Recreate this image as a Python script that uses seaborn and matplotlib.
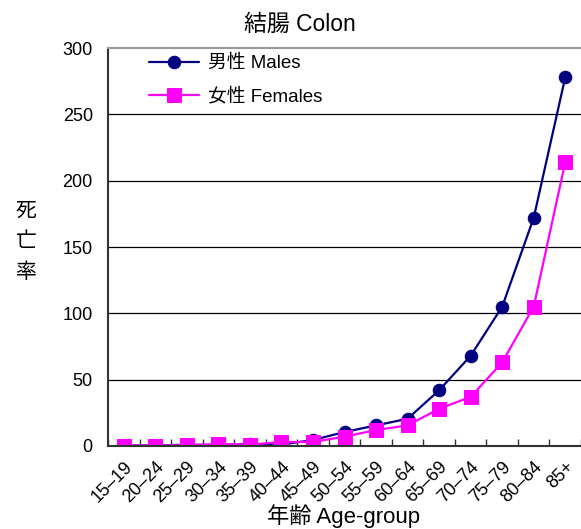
import numpy as np
import pandas as pd
import matplotlib
matplotlib.use('Agg')
import matplotlib.pyplot as plt
import seaborn as sns

# Age groups and death rates
age_groups = ['15–19', '20–24', '25–29', '30–34', '35–39', '40–44', '45–49', '50–54',
              '55–59', '60–64', '65–69', '70–74', '75–79', '80–84', '85+']
males = [0.3, 0.3, 1.0, 0.5, 1.5, 1.0, 4.5, 10.5, 15.5, 20.5, 42.0, 68.0, 105.0, 172.0, 278.0]
females = [0.3, 0.3, 0.5, 1.5, 1.0, 3.0, 3.0, 7.0, 12.0, 15.5, 28.0, 37.0, 63.0, 105.0, 214.0]

sns.set_theme(style='white', rc={'text.color': 'black', 'xtick.color': 'black',
                                 'ytick.color': 'black', 'axes.labelcolor': 'black'})
plt.rcParams['font.family'] = ['Liberation Sans', 'Noto Sans CJK JP', 'DejaVu Sans']

df = pd.DataFrame({'x': np.arange(len(age_groups)), 'Males': males, 'Females': females})

fig = plt.figure(figsize=(5.81, 5.29), dpi=100)
ax = fig.add_axes([0.186, 0.157, 0.814, 0.752])

sns.lineplot(data=df, x='x', y='Males', ax=ax, color='#000080', marker='o',
             markersize=9, linewidth=1.6, markeredgecolor='#000080', label='男性 Males')
sns.lineplot(data=df, x='x', y='Females', ax=ax, color='#FF00FF', marker='s',
             markersize=9.5, linewidth=1.6, markeredgecolor='#FF00FF', label='女性 Females')

ax.set_xlim(-0.5, len(age_groups) - 0.5)
ax.set_ylim(0, 300)
ax.set_yticks(range(0, 301, 50))
for y in range(50, 300, 50):
    ax.axhline(y, color='black', linewidth=0.9, zorder=0)

ax.set_xticks(np.arange(len(age_groups)))
ax.set_xticklabels(age_groups, rotation=45, ha='right', rotation_mode='anchor', fontsize=13)
ax.set_xticks(np.arange(len(age_groups) + 1) - 0.5, minor=True)
ax.tick_params(axis='x', which='major', length=0, pad=9)
ax.tick_params(axis='x', which='minor', direction='in', length=5, width=1, color='#333333', bottom=True)
ax.tick_params(axis='y', labelsize=13, length=0, pad=11)

for s in ['left', 'bottom']:
    ax.spines[s].set_color('#333333')
    ax.spines[s].set_linewidth(1.5)
ax.spines['top'].set_color('#999999')
ax.spines['top'].set_linewidth(1.5)
ax.spines['right'].set_visible(False)

ax.set_xlabel('年齢 Age-group', fontsize=16, va='center')
ax.xaxis.set_label_coords(0.499, -0.176)
ax.set_ylabel('')
fig.text(0.045, 0.543, '死\n亡\n率', fontsize=15, ha='center', va='center', linespacing=1.75)
fig.text(0.516, 0.953, '結腸 Colon', fontsize=16.5, ha='center', va='center')

ax.legend(loc='upper left', bbox_to_anchor=(0.05, 1.025), frameon=False, fontsize=13.5,
          handlelength=2.7, handletextpad=0.45, labelspacing=0.8)

fig.savefig('out.png', dpi=100)
